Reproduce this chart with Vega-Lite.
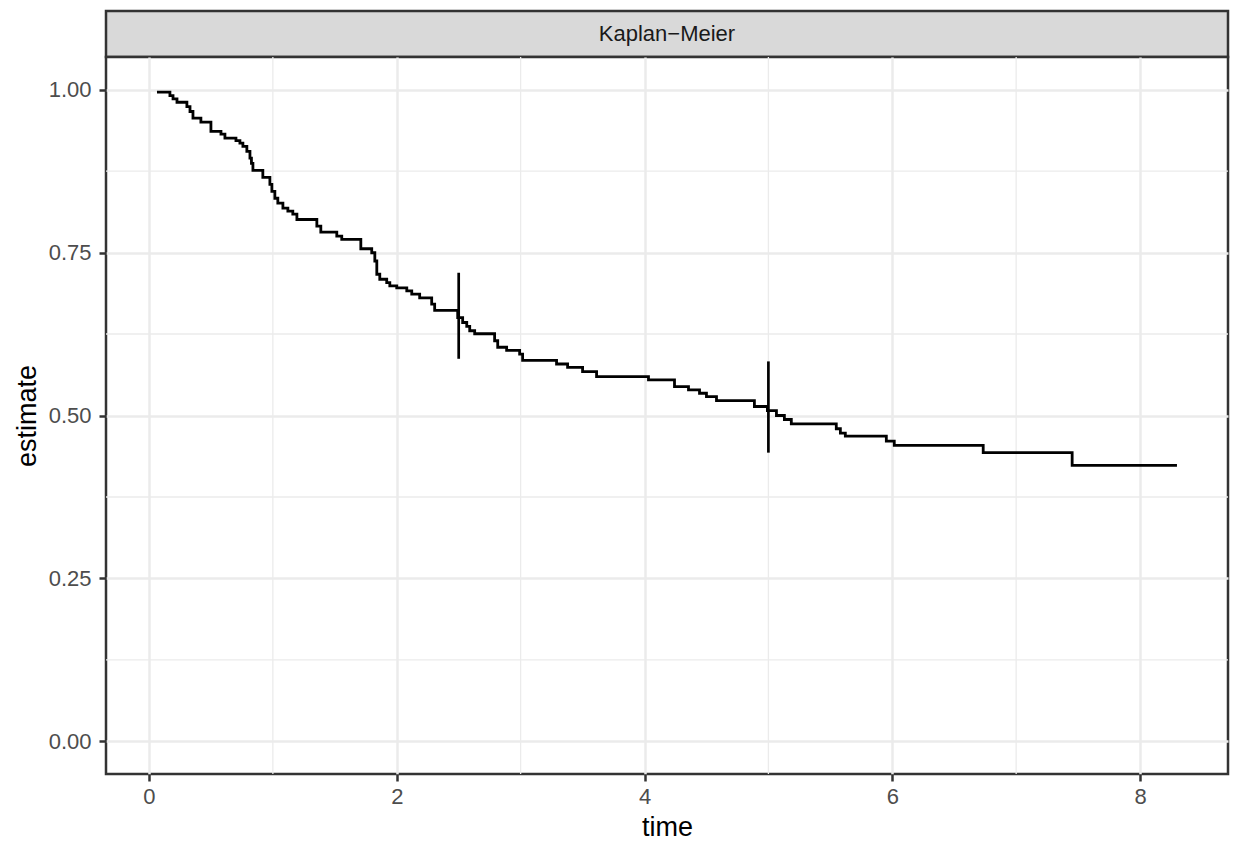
{
  "$schema": "https://vega.github.io/schema/vega-lite/v6.json",
  "autosize": {"type": "pad"},
  "padding": {"left": 11, "top": 9, "right": 4, "bottom": 4},
  "background": "white",
  "datasets": {
    "strip": [{"label": "Kaplan−Meier"}],
    "km": [
      {"time": 0.0645, "estimate": 0.996},
      {"time": 0.169, "estimate": 0.9908},
      {"time": 0.194, "estimate": 0.9858},
      {"time": 0.226, "estimate": 0.9806},
      {"time": 0.306, "estimate": 0.974},
      {"time": 0.331, "estimate": 0.9664},
      {"time": 0.355, "estimate": 0.9561},
      {"time": 0.419, "estimate": 0.950},
      {"time": 0.500, "estimate": 0.9358},
      {"time": 0.581, "estimate": 0.9317},
      {"time": 0.613, "estimate": 0.9255},
      {"time": 0.702, "estimate": 0.9216},
      {"time": 0.734, "estimate": 0.9179},
      {"time": 0.758, "estimate": 0.9128},
      {"time": 0.790, "estimate": 0.9052},
      {"time": 0.815, "estimate": 0.895},
      {"time": 0.827, "estimate": 0.8869},
      {"time": 0.839, "estimate": 0.876},
      {"time": 0.919, "estimate": 0.8654},
      {"time": 0.976, "estimate": 0.8547},
      {"time": 0.992, "estimate": 0.844},
      {"time": 1.016, "estimate": 0.8333},
      {"time": 1.040, "estimate": 0.8257},
      {"time": 1.081, "estimate": 0.818},
      {"time": 1.121, "estimate": 0.8135},
      {"time": 1.161, "estimate": 0.8089},
      {"time": 1.194, "estimate": 0.8007},
      {"time": 1.355, "estimate": 0.7905},
      {"time": 1.387, "estimate": 0.7813},
      {"time": 1.516, "estimate": 0.7752},
      {"time": 1.556, "estimate": 0.7702},
      {"time": 1.710, "estimate": 0.7558},
      {"time": 1.798, "estimate": 0.7497},
      {"time": 1.823, "estimate": 0.737},
      {"time": 1.839, "estimate": 0.7167},
      {"time": 1.863, "estimate": 0.709},
      {"time": 1.919, "estimate": 0.7038},
      {"time": 1.944, "estimate": 0.6988},
      {"time": 2.000, "estimate": 0.6957},
      {"time": 2.081, "estimate": 0.6911},
      {"time": 2.121, "estimate": 0.6861},
      {"time": 2.185, "estimate": 0.6804},
      {"time": 2.282, "estimate": 0.6708},
      {"time": 2.306, "estimate": 0.6613},
      {"time": 2.492, "estimate": 0.6503},
      {"time": 2.532, "estimate": 0.6427},
      {"time": 2.565, "estimate": 0.6366},
      {"time": 2.589, "estimate": 0.630},
      {"time": 2.629, "estimate": 0.6254},
      {"time": 2.790, "estimate": 0.6147},
      {"time": 2.815, "estimate": 0.6047},
      {"time": 2.887, "estimate": 0.5998},
      {"time": 2.992, "estimate": 0.5943},
      {"time": 3.016, "estimate": 0.5846},
      {"time": 3.290, "estimate": 0.579},
      {"time": 3.379, "estimate": 0.5739},
      {"time": 3.500, "estimate": 0.5673},
      {"time": 3.613, "estimate": 0.5596},
      {"time": 4.032, "estimate": 0.5546},
      {"time": 4.242, "estimate": 0.5443},
      {"time": 4.355, "estimate": 0.5393},
      {"time": 4.444, "estimate": 0.5341},
      {"time": 4.500, "estimate": 0.529},
      {"time": 4.581, "estimate": 0.5229},
      {"time": 4.887, "estimate": 0.5138},
      {"time": 4.992, "estimate": 0.5076},
      {"time": 5.065, "estimate": 0.500},
      {"time": 5.129, "estimate": 0.4939},
      {"time": 5.185, "estimate": 0.4873},
      {"time": 5.548, "estimate": 0.4797},
      {"time": 5.581, "estimate": 0.4729},
      {"time": 5.621, "estimate": 0.4683},
      {"time": 5.952, "estimate": 0.4607},
      {"time": 6.016, "estimate": 0.4541},
      {"time": 6.734, "estimate": 0.443},
      {"time": 7.452, "estimate": 0.4235},
      {"time": 8.298, "estimate": 0.4235}
    ],
    "ci": [
      {"time": 2.5, "lo": 0.587, "hi": 0.719},
      {"time": 5.0, "lo": 0.443, "hi": 0.583}
    ],
    "minorx": [{"time": 1}, {"time": 3}, {"time": 5}, {"time": 7}],
    "minory": [{"estimate": 0.125}, {"estimate": 0.375}, {"estimate": 0.625}, {"estimate": 0.875}]
  },
  "vconcat": [
    {
      "width": 1122,
      "height": 46,
      "data": {"name": "strip"},
      "view": {"fill": "#D9D9D9", "stroke": "#333333", "strokeWidth": 2.5},
      "mark": {"type": "text", "fontSize": 22, "color": "#1A1A1A", "font": "Liberation Sans"},
      "encoding": {"text": {"field": "label", "type": "nominal"}}
    },
    {
      "width": 1122,
      "height": 717,
      "view": {"fill": "white", "stroke": "#333333", "strokeWidth": 2.5},
      "layer": [
        {
          "data": {"name": "minorx"},
          "mark": {"type": "rule", "color": "#EBEBEB", "strokeWidth": 1.3},
          "encoding": {
            "x": {"field": "time", "type": "quantitative", "title": "time", "scale": {"domain": [-0.347, 8.71], "nice": false, "zero": false}}
          }
        },
        {
          "data": {"name": "minory"},
          "mark": {"type": "rule", "color": "#EBEBEB", "strokeWidth": 1.3},
          "encoding": {
            "y": {"field": "estimate", "type": "quantitative", "title": "estimate", "scale": {"domain": [-0.05, 1.05], "nice": false, "zero": false}}
          }
        },
        {
          "data": {"name": "km"},
          "mark": {"type": "line", "interpolate": "step-after", "color": "black", "strokeWidth": 2.8},
          "encoding": {
            "x": {"field": "time", "type": "quantitative", "title": "time",
                  "scale": {"domain": [-0.347, 8.71], "nice": false, "zero": false},
                  "axis": {"values": [0, 2, 4, 6, 8], "format": "d"}},
            "y": {"field": "estimate", "type": "quantitative", "title": "estimate",
                  "scale": {"domain": [-0.05, 1.05], "nice": false, "zero": false},
                  "axis": {"values": [0, 0.25, 0.5, 0.75, 1], "format": ".2f", "labelPadding": 8}}
          }
        },
        {
          "data": {"name": "ci"},
          "mark": {"type": "rule", "color": "black", "strokeWidth": 2.7},
          "encoding": {
            "x": {"field": "time", "type": "quantitative", "title": "time", "scale": {"domain": [-0.347, 8.71], "nice": false, "zero": false}},
            "y": {"field": "lo", "type": "quantitative", "title": "estimate", "scale": {"domain": [-0.05, 1.05], "nice": false, "zero": false}},
            "y2": {"field": "hi"}
          }
        }
      ]
    }
  ],
  "spacing": 0,
  "bounds": "flush",
  "config": {
    "font": "Liberation Sans",
    "axis": {
      "domain": false,
      "grid": true,
      "gridColor": "#EBEBEB",
      "gridWidth": 2.5,
      "ticks": true,
      "tickColor": "#333333",
      "tickWidth": 2.5,
      "tickSize": 7,
      "labelColor": "#4D4D4D",
      "labelFontSize": 22,
      "labelFont": "Liberation Sans",
      "labelPadding": 5,
      "titleFont": "Liberation Sans",
      "titleFontSize": 27,
      "titleFontWeight": "normal",
      "titleColor": "black",
      "titlePadding": 7
    }
  }
}
